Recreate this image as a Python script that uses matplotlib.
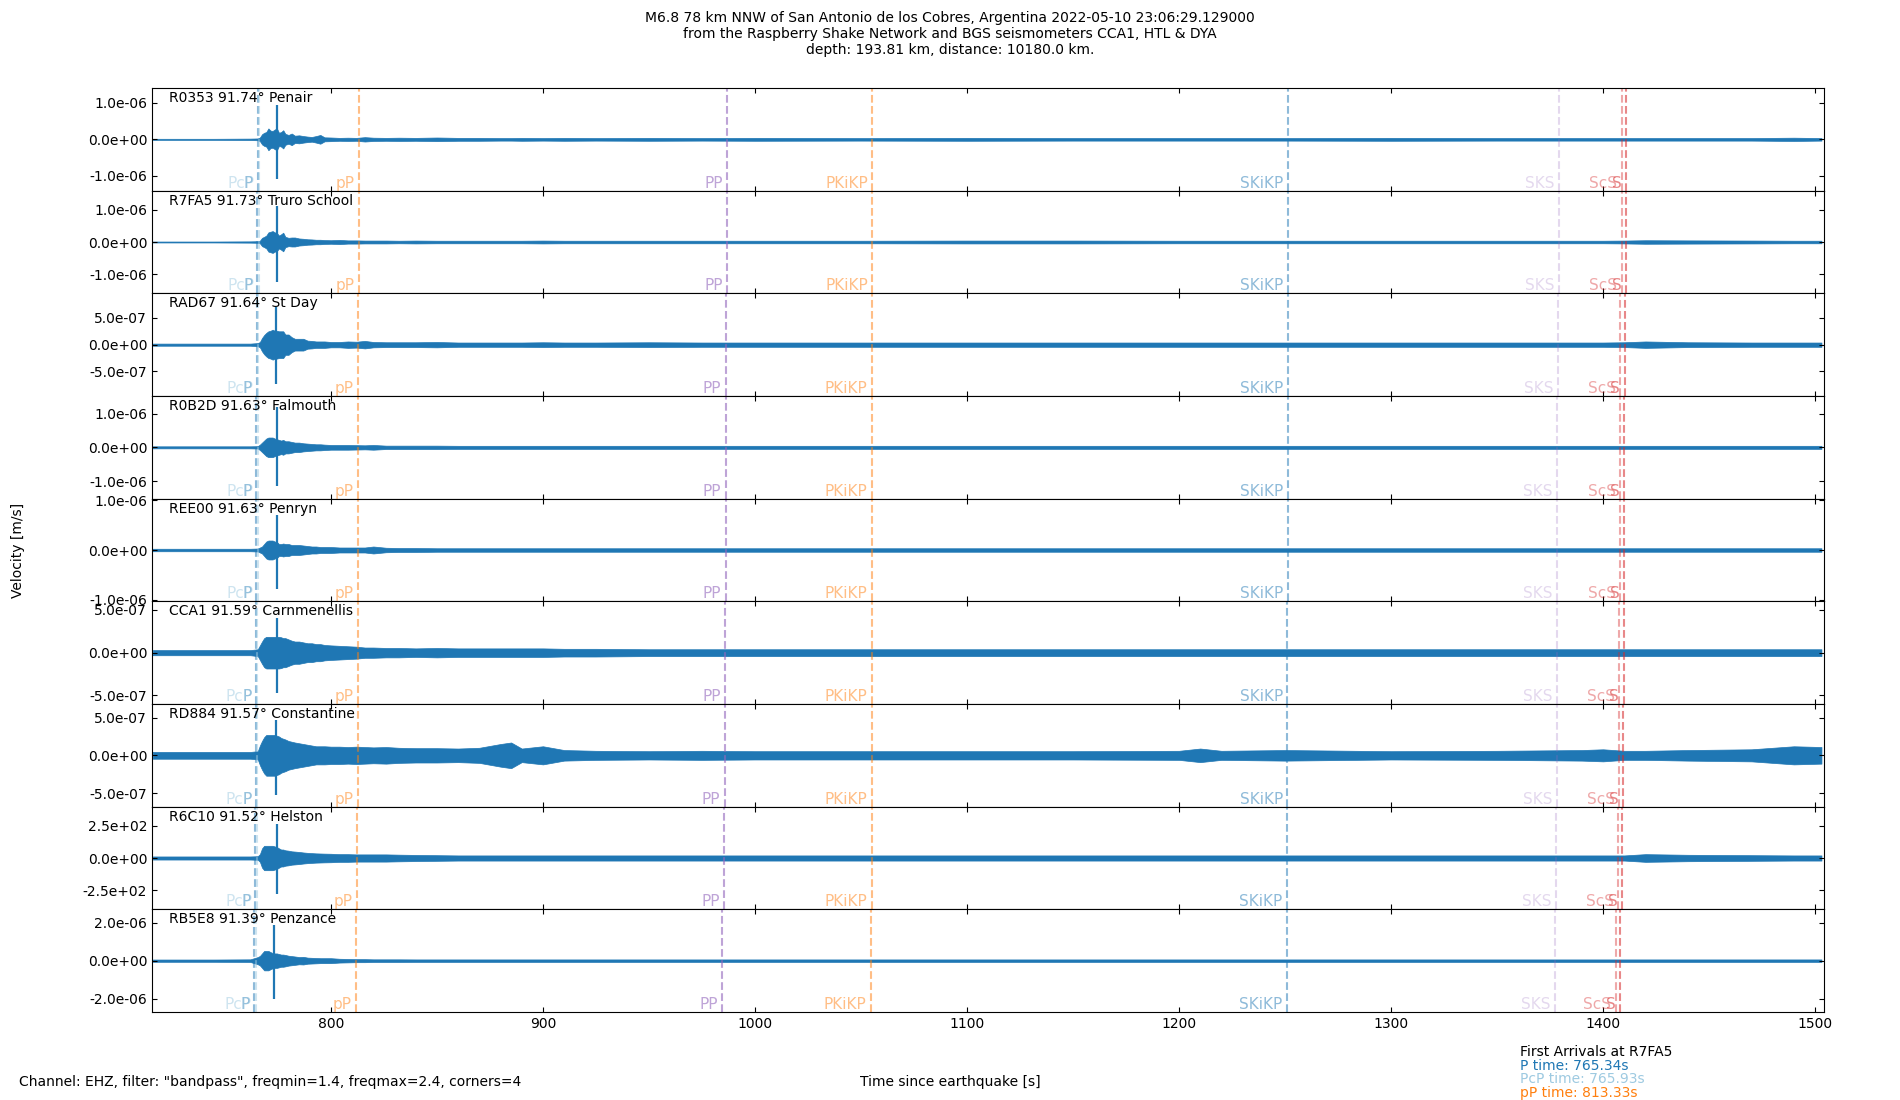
import numpy as np
import matplotlib
matplotlib.use("Agg")
import matplotlib.pyplot as plt
import matplotlib.transforms as mtransforms
from matplotlib.ticker import FormatStrFormatter

# ---------------- data ----------------
codes = ["R0353", "R7FA5", "RAD67", "R0B2D", "REE00", "CCA1", "RD884", "R6C10", "RB5E8"]
places = ["Penair", "Truro School", "St Day", "Falmouth", "Penryn", "Carnmenellis",
          "Constantine", "Helston", "Penzance"]
distances = [91.74, 91.73, 91.64, 91.63, 91.63, 91.59, 91.57, 91.52, 91.39]

# amplitude unit of each trace (m/s, raw counts for R6C10)
units = [1e-7, 1e-7, 1e-7, 1e-7, 1e-7, 1e-7, 1e-7, 10.0, 1e-7]
ylim_half = [14.1, 16.0, 9.6, 15.2, 10.3, 6.0, 6.8, 40.0, 27.0]
ytick_step = [10, 10, 5, 10, 10, 5, 5, 25, 20]

# envelope sample times (s since earthquake)
t_env = [716, 745, 762, 765.5, 766.5, 767.5, 768.5, 769.5, 770.5, 771.5,
         772.5, 773.5, 774.5, 775.5, 776.5, 777.5, 778.5, 780, 781.5, 783,
         785, 787, 789, 791, 793, 795, 797, 800, 804, 808,
         812, 816, 820, 826, 832, 840, 850, 860, 870, 880,
         885, 890, 900, 910, 925, 950, 975, 1000, 1050, 1100,
         1150, 1200, 1210, 1220, 1250, 1300, 1350, 1390, 1400, 1410,
         1420, 1440, 1470, 1490, 1503]

# half-width of the trace envelope, in units of the trace
env_R0353 = [0.15, 0.15, 0.2, 0.25, 0.5, 1.4, 1.8, 2.0, 3.0, 2.4,
             2.3, 2.7, 3.0, 1.8, 2.0, 2.5, 1.5, 1.2, 1.6, 1.0,
             1.1, 0.9, 0.75, 0.65, 0.9, 1.2, 0.55, 0.5, 0.4, 0.45,
             0.4, 0.6, 0.45, 0.4, 0.45, 0.4, 0.5, 0.4, 0.4, 0.35,
             0.35, 0.4, 0.35, 0.4, 0.35, 0.4, 0.35, 0.4, 0.35, 0.4,
             0.35, 0.35, 0.35, 0.35, 0.35, 0.4, 0.35, 0.35, 0.35, 0.35,
             0.35, 0.35, 0.35, 0.45, 0.35]
env_R7FA5 = [0.15, 0.15, 0.2, 0.25, 0.4, 1.3, 1.6, 2.0, 3.0, 3.2,
             3.4, 3.0, 2.8, 2.0, 2.4, 2.9, 1.6, 1.3, 1.4, 1.4,
             1.1, 1.0, 0.85, 0.8, 0.7, 0.7, 0.6, 0.55, 0.65, 0.5,
             0.5, 0.45, 0.45, 0.45, 0.4, 0.45, 0.4, 0.4, 0.4, 0.4,
             0.4, 0.4, 0.45, 0.4, 0.4, 0.4, 0.4, 0.4, 0.4, 0.45,
             0.45, 0.4, 0.4, 0.4, 0.4, 0.4, 0.4, 0.4, 0.4, 0.45,
             0.55, 0.5, 0.45, 0.4, 0.4]
env_RAD67 = [0.2, 0.2, 0.2, 0.3, 0.5, 1.25, 1.8, 2.2, 2.5, 2.6,
             2.8, 2.6, 2.6, 2.5, 2.5, 2.5, 1.9, 1.9, 1.4, 1.1,
             1.1, 1.1, 0.75, 0.7, 0.6, 0.6, 0.6, 0.5, 0.5, 0.6,
             0.55, 0.7, 0.5, 0.45, 0.45, 0.45, 0.5, 0.4, 0.4, 0.4,
             0.4, 0.4, 0.45, 0.4, 0.4, 0.45, 0.4, 0.4, 0.4, 0.4,
             0.4, 0.4, 0.4, 0.4, 0.4, 0.4, 0.4, 0.4, 0.4, 0.45,
             0.6, 0.45, 0.4, 0.4, 0.4]
env_R0B2D = [0.3, 0.3, 0.3, 0.35, 0.8, 1.4, 2.0, 2.6, 2.9, 2.9,
             2.9, 2.6, 2.4, 2.2, 2.0, 2.2, 1.8, 1.8, 1.6, 1.4,
             1.4, 1.2, 1.1, 1.0, 0.9, 0.9, 0.8, 0.7, 0.7, 0.7,
             0.65, 0.6, 0.7, 0.5, 0.5, 0.5, 0.5, 0.45, 0.45, 0.45,
             0.45, 0.45, 0.45, 0.45, 0.45, 0.45, 0.45, 0.45, 0.45, 0.45,
             0.45, 0.45, 0.45, 0.45, 0.45, 0.45, 0.45, 0.45, 0.45, 0.45,
             0.45, 0.45, 0.45, 0.45, 0.45]
env_REE00 = [0.25, 0.25, 0.25, 0.3, 0.5, 0.7, 1.2, 1.7, 1.9, 1.9,
             1.9, 1.7, 1.6, 1.2, 1.2, 1.3, 1.2, 1.2, 1.0, 1.0,
             1.0, 0.9, 0.8, 0.7, 0.7, 0.6, 0.6, 0.6, 0.5, 0.5,
             0.5, 0.5, 0.7, 0.45, 0.4, 0.4, 0.35, 0.35, 0.35, 0.35,
             0.35, 0.35, 0.35, 0.35, 0.35, 0.35, 0.35, 0.35, 0.35, 0.35,
             0.35, 0.35, 0.35, 0.35, 0.35, 0.35, 0.35, 0.35, 0.35, 0.35,
             0.35, 0.35, 0.35, 0.35, 0.35]
env_CCA1 = [0.3, 0.3, 0.3, 0.4, 0.85, 1.3, 1.7, 1.85, 1.85, 1.85,
            1.85, 1.85, 1.85, 1.85, 1.8, 1.7, 1.7, 1.55, 1.4, 1.3,
            1.3, 1.2, 1.1, 1.1, 1.0, 1.0, 0.9, 0.85, 0.8, 0.75,
            0.7, 0.6, 0.6, 0.55, 0.55, 0.5, 0.55, 0.5, 0.5, 0.5,
            0.5, 0.5, 0.5, 0.45, 0.45, 0.4, 0.4, 0.4, 0.4, 0.4,
            0.4, 0.4, 0.4, 0.4, 0.4, 0.4, 0.4, 0.4, 0.4, 0.4,
            0.4, 0.4, 0.4, 0.4, 0.4]
env_RD884 = [0.45, 0.45, 0.45, 0.55, 1.3, 1.9, 2.4, 2.7, 2.7, 2.7,
             2.7, 2.7, 2.6, 2.5, 2.3, 2.2, 2.1, 1.9, 1.8, 1.7,
             1.6, 1.5, 1.4, 1.3, 1.2, 1.2, 1.2, 1.15, 1.15, 1.1,
             1.15, 1.1, 1.05, 1.1, 1.0, 0.95, 0.95, 0.9, 1.0, 1.5,
             1.7, 0.9, 1.2, 0.7, 0.6, 0.55, 0.6, 0.55, 0.55, 0.55,
             0.55, 0.6, 0.9, 0.6, 0.7, 0.55, 0.6, 0.7, 0.8, 0.6,
             0.6, 0.7, 0.8, 1.2, 1.1]
env_R6C10 = [1.2, 1.2, 1.2, 1.4, 3.0, 7.5, 9.5, 9.5, 9.5, 9.5,
             9.5, 9.0, 8.5, 7.5, 6.6, 6.6, 6.0, 5.7, 5.2, 5.0,
             4.7, 4.3, 4.0, 3.8, 3.6, 3.5, 3.4, 3.3, 3.0, 3.0,
             2.8, 2.8, 2.8, 2.8, 2.6, 2.4, 2.2, 2.0, 2.0, 2.0,
             2.0, 2.0, 2.0, 2.0, 2.0, 2.0, 2.0, 2.0, 2.0, 2.0,
             2.0, 2.0, 2.0, 2.0, 2.0, 2.0, 2.0, 2.0, 2.0, 2.0,
             3.0, 2.5, 2.2, 2.0, 2.0]
env_RB5E8 = [0.6, 0.6, 0.7, 1.9, 2.5, 3.8, 5.1, 5.1, 5.1, 4.5,
             4.0, 3.8, 3.8, 3.5, 3.2, 3.2, 3.0, 2.6, 2.4, 2.2,
             1.9, 2.0, 1.6, 1.5, 1.4, 1.3, 1.3, 1.3, 1.0, 0.9,
             0.8, 0.8, 0.7, 0.7, 0.7, 0.65, 0.65, 0.65, 0.65, 0.65,
             0.65, 0.65, 0.65, 0.65, 0.65, 0.65, 0.65, 0.65, 0.65, 0.65,
             0.65, 0.65, 0.65, 0.65, 0.65, 0.65, 0.65, 0.65, 0.65, 0.65,
             0.65, 0.65, 0.65, 0.65, 0.65]
envelopes = [env_R0353, env_R7FA5, env_RAD67, env_R0B2D, env_REE00,
             env_CCA1, env_RD884, env_R6C10, env_RB5E8]

# main P spike of each trace
peak_time = [774.4, 774.4, 774.2, 774.6, 774.4, 774.4, 774.2, 774.4, 773.2]
peak_up = [9.5, 11.2, 7.0, 11.9, 7.0, 4.1, 4.7, 26.5, 19.0]
peak_down = [10.8, 12.4, 7.3, 11.5, 7.8, 4.7, 5.3, 28.4, 20.4]

# phase arrival times per station (s)
phase_names = ["P", "PcP", "pP", "PP", "PKiKP", "SKiKP", "SKS", "ScS", "S"]
t_P = [765.39, 765.34, 764.93, 764.88, 764.88, 764.70, 764.60, 764.37, 763.78]
t_PcP = [765.97, 765.93, 765.54, 765.50, 765.50, 765.33, 765.24, 765.03, 764.47]
t_pP = [813.38, 813.33, 812.92, 812.87, 812.87, 812.69, 812.59, 812.36, 811.77]
t_PP = [986.87, 986.80, 986.20, 986.13, 986.13, 985.86, 985.73, 985.39, 984.52]
t_PKiKP = [1055.42, 1055.40, 1055.23, 1055.21, 1055.21, 1055.13, 1055.10, 1055.00, 1054.75]
t_SKiKP = [1251.42, 1251.40, 1251.22, 1251.20, 1251.20, 1251.12, 1251.08, 1250.98, 1250.72]
t_SKS = [1379.05, 1379.00, 1378.55, 1378.50, 1378.50, 1378.30, 1378.20, 1377.95, 1377.30]
t_ScS = [1408.88, 1408.80, 1408.08, 1408.00, 1408.00, 1407.68, 1407.52, 1407.12, 1406.08]
t_S = [1410.98, 1410.90, 1410.15, 1410.07, 1410.07, 1409.74, 1409.57, 1409.16, 1408.08]
phase_times = [t_P, t_PcP, t_pP, t_PP, t_PKiKP, t_SKiKP, t_SKS, t_ScS, t_S]

phase_colors = ["#1f77b4", "#9ecae1", "#ff7f0e", "#9467bd", "#ff7f0e",
                "#1f77b4", "#9467bd", "#d62728", "#d62728"]
phase_alphas = [0.5, 0.5, 0.5, 0.6, 0.5, 0.5, 0.25, 0.4, 0.55]

xticks = [800, 900, 1000, 1100, 1200, 1300, 1400, 1500]
xlim = (715.6, 1504.2)

title = ("M6.8 78 km NNW of San Antonio de los Cobres, Argentina 2022-05-10 23:06:29.129000\n"
         "from the Raspberry Shake Network and BGS seismometers CCA1, HTL & DYA\n"
         "depth: 193.81 km, distance: 10180.0 km.")
footer = 'Channel: EHZ, filter: "bandpass", freqmin=1.4, freqmax=2.4, corners=4'
arrival_lines = ["First Arrivals at R7FA5", "P time: 765.34s", "PcP time: 765.93s", "pP time: 813.33s"]
arrival_colors = ["black", "#1f77b4", "#9ecae1", "#ff7f0e"]

# ---------------- plot ----------------
trace_color = "#1f77b4"
fig = plt.figure(figsize=(19, 11), dpi=100)
axes = fig.subplots(len(codes), 1, sharex=True, gridspec_kw=dict(hspace=0))
fig.subplots_adjust(left=0.08, right=0.96, top=0.92, bottom=0.08)

t_arr = np.array(t_env, dtype=float)
label_shift = mtransforms.ScaledTranslation(-4.5 / 100.0, 0, fig.dpi_scale_trans)
for i, ax in enumerate(axes):
    u = units[i]
    env = np.array(envelopes[i]) * u
    assert len(env) == len(t_arr)
    ax.fill_between(t_arr, -env, env, color=trace_color, lw=0.5)
    ax.vlines(peak_time[i], -peak_down[i] * u, peak_up[i] * u, color=trace_color, lw=1.6)

    trans = mtransforms.blended_transform_factory(ax.transData, ax.transAxes) + label_shift
    for name, times, col, al in zip(phase_names, phase_times, phase_colors, phase_alphas):
        ax.axvline(times[i], color=col, alpha=al, ls="--", lw=1.5)
        ax.text(times[i], 0.0, name, transform=trans, ha="right", va="bottom",
                color=col, alpha=al, fontsize=11)

    ax.text(0.01, 0.97, f"{codes[i]} {distances[i]:.2f}\u00b0 {places[i]}",
            transform=ax.transAxes, ha="left", va="top", fontsize=10)

    h = ylim_half[i] * u
    s = ytick_step[i] * u
    ax.set_ylim(-h, h)
    ax.set_yticks([-s, 0.0, s])
    ax.yaxis.set_major_formatter(FormatStrFormatter("%.1e"))
    ax.set_xlim(*xlim)
    ax.set_xticks(xticks)
    ax.tick_params(direction="in", top=True, right=True, labelsize=10)

fig.suptitle(title, y=0.99, fontsize=10)
fig.text(0.5, 0.01, "Time since earthquake [s]", ha="center", va="bottom", fontsize=10)
fig.text(0.0095, 0.5, "Velocity [m/s]", rotation=90, ha="center", va="center", fontsize=10)
fig.text(0.01, 0.01, footer, ha="left", va="bottom", fontsize=10)
for k, (line, col) in enumerate(zip(arrival_lines, arrival_colors)):
    fig.text(0.8, 0.0375 - 0.0125 * k, line, color=col, ha="left", va="bottom", fontsize=10)

fig.savefig("out.png", dpi=100)
